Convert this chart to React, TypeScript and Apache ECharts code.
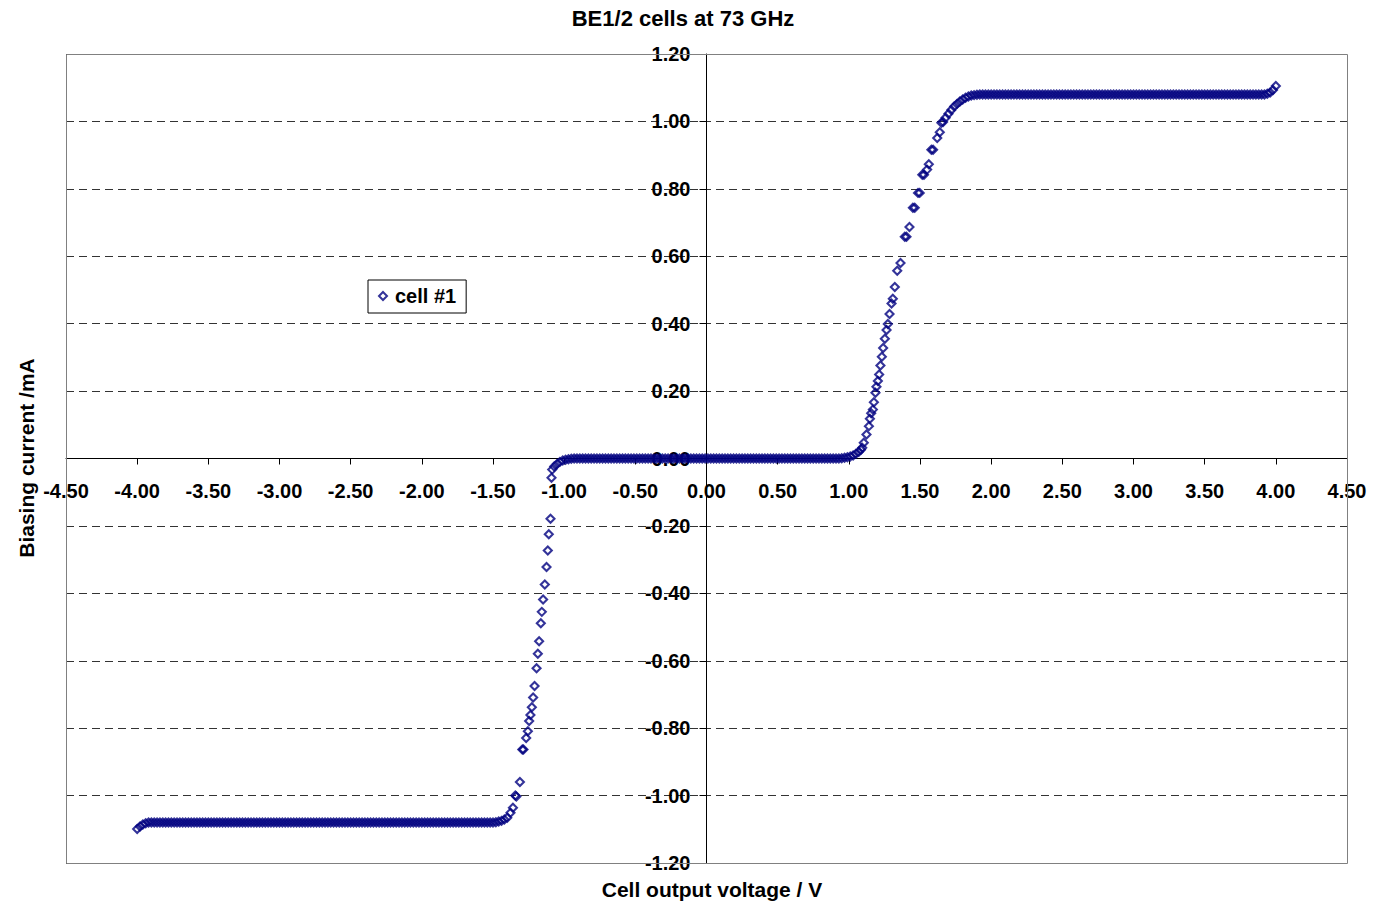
import React, { useEffect, useRef } from "react";
import * as echarts from "echarts";

// Chart texts
const chartTitle = "BE1/2 cells at 73 GHz";
const xAxisTitle = "Cell output voltage / V";
const yAxisTitle = "Biasing current /mA";
const seriesName = "cell #1";

// Axis ranges (V and mA)
const xRange = { min: -4.5, max: 4.5, step: 0.5 };
const yRange = { min: -1.2, max: 1.2, step: 0.2 };

// Measured sweep, [voltage V, current mA]
// Negative saturation (start of the sweep)
const negativeSaturation: [number, number][] = [
  [-4.00, -1.099], [-3.98, -1.092], [-3.96, -1.086], [-3.94, -1.082],
  [-3.92, -1.08], [-3.90, -1.08], [-3.88, -1.08], [-3.86, -1.08], [-3.84, -1.08], [-3.82, -1.08],
  [-3.80, -1.08], [-3.78, -1.08], [-3.76, -1.08], [-3.74, -1.08], [-3.72, -1.08], [-3.70, -1.08],
  [-3.68, -1.08], [-3.66, -1.08], [-3.64, -1.08], [-3.62, -1.08], [-3.60, -1.08], [-3.58, -1.08],
  [-3.56, -1.08], [-3.54, -1.08], [-3.52, -1.08], [-3.50, -1.08], [-3.48, -1.08], [-3.46, -1.08],
  [-3.44, -1.08], [-3.42, -1.08], [-3.40, -1.08], [-3.38, -1.08], [-3.36, -1.08], [-3.34, -1.08],
  [-3.32, -1.08], [-3.30, -1.08], [-3.28, -1.08], [-3.26, -1.08], [-3.24, -1.08], [-3.22, -1.08],
  [-3.20, -1.08], [-3.18, -1.08], [-3.16, -1.08], [-3.14, -1.08], [-3.12, -1.08], [-3.10, -1.08],
  [-3.08, -1.08], [-3.06, -1.08], [-3.04, -1.08], [-3.02, -1.08], [-3.00, -1.08], [-2.98, -1.08],
  [-2.96, -1.08], [-2.94, -1.08], [-2.92, -1.08], [-2.90, -1.08], [-2.88, -1.08], [-2.86, -1.08],
  [-2.84, -1.08], [-2.82, -1.08], [-2.80, -1.08], [-2.78, -1.08], [-2.76, -1.08], [-2.74, -1.08],
  [-2.72, -1.08], [-2.70, -1.08], [-2.68, -1.08], [-2.66, -1.08], [-2.64, -1.08], [-2.62, -1.08],
  [-2.60, -1.08], [-2.58, -1.08], [-2.56, -1.08], [-2.54, -1.08], [-2.52, -1.08], [-2.50, -1.08],
  [-2.48, -1.08], [-2.46, -1.08], [-2.44, -1.08], [-2.42, -1.08], [-2.40, -1.08], [-2.38, -1.08],
  [-2.36, -1.08], [-2.34, -1.08], [-2.32, -1.08], [-2.30, -1.08], [-2.28, -1.08], [-2.26, -1.08],
  [-2.24, -1.08], [-2.22, -1.08], [-2.20, -1.08], [-2.18, -1.08], [-2.16, -1.08], [-2.14, -1.08],
  [-2.12, -1.08], [-2.10, -1.08], [-2.08, -1.08], [-2.06, -1.08], [-2.04, -1.08], [-2.02, -1.08],
  [-2.00, -1.08], [-1.98, -1.08], [-1.96, -1.08], [-1.94, -1.08], [-1.92, -1.08], [-1.90, -1.08],
  [-1.88, -1.08], [-1.86, -1.08], [-1.84, -1.08], [-1.82, -1.08], [-1.80, -1.08], [-1.78, -1.08],
  [-1.76, -1.08], [-1.74, -1.08], [-1.72, -1.08], [-1.70, -1.08], [-1.68, -1.08], [-1.66, -1.08],
  [-1.64, -1.08], [-1.62, -1.08], [-1.60, -1.08], [-1.58, -1.08], [-1.56, -1.08], [-1.54, -1.08],
  [-1.52, -1.08], [-1.50, -1.08], [-1.48, -1.079], [-1.46, -1.077], [-1.44, -1.075], [-1.42, -1.071],
  [-1.40, -1.066],
];

// Negative turn-on edge
const negativeEdge: [number, number][] = [
  [-1.377, -1.051], [-1.360, -1.036], [-1.343, -1.000], [-1.336, -1.003], [-1.311, -0.960],
  [-1.294, -0.863], [-1.286, -0.863], [-1.267, -0.829], [-1.255, -0.809], [-1.246, -0.779],
  [-1.237, -0.761], [-1.227, -0.738], [-1.218, -0.709], [-1.208, -0.675], [-1.194, -0.622],
  [-1.185, -0.579], [-1.176, -0.542], [-1.164, -0.489], [-1.157, -0.455], [-1.148, -0.418],
  [-1.136, -0.374], [-1.124, -0.322], [-1.115, -0.273], [-1.108, -0.225], [-1.096, -0.179],
  [-1.089, -0.057], [-1.084, -0.033], [-1.07, -0.024], [-1.05, -0.016], [-1.03, -0.010],
  [-1.01, -0.006], [-0.99, -0.004], [-0.97, -0.002], [-0.95, -0.001],
];

// Dead zone around 0 V
const deadZone: [number, number][] = [
  [-0.93, 0], [-0.91, 0], [-0.89, 0], [-0.87, 0], [-0.85, 0], [-0.83, 0], [-0.81, 0], [-0.79, 0],
  [-0.77, 0], [-0.75, 0], [-0.73, 0], [-0.71, 0], [-0.69, 0], [-0.67, 0], [-0.65, 0], [-0.63, 0],
  [-0.61, 0], [-0.59, 0], [-0.57, 0], [-0.55, 0], [-0.53, 0], [-0.51, 0], [-0.49, 0], [-0.47, 0],
  [-0.45, 0], [-0.43, 0], [-0.41, 0], [-0.39, 0], [-0.37, 0], [-0.35, 0], [-0.33, 0], [-0.31, 0],
  [-0.29, 0], [-0.27, 0], [-0.25, 0], [-0.23, 0], [-0.21, 0], [-0.19, 0], [-0.17, 0], [-0.15, 0],
  [-0.13, 0], [-0.11, 0], [-0.09, 0], [-0.07, 0], [-0.05, 0], [-0.03, 0], [-0.01, 0], [0.01, 0],
  [0.03, 0], [0.05, 0], [0.07, 0], [0.09, 0], [0.11, 0], [0.13, 0], [0.15, 0], [0.17, 0],
  [0.19, 0], [0.21, 0], [0.23, 0], [0.25, 0], [0.27, 0], [0.29, 0], [0.31, 0], [0.33, 0],
  [0.35, 0], [0.37, 0], [0.39, 0], [0.41, 0], [0.43, 0], [0.45, 0], [0.47, 0], [0.49, 0],
  [0.51, 0], [0.53, 0], [0.55, 0], [0.57, 0], [0.59, 0], [0.61, 0], [0.63, 0], [0.65, 0],
  [0.67, 0], [0.69, 0], [0.71, 0], [0.73, 0], [0.75, 0], [0.77, 0], [0.79, 0], [0.81, 0],
  [0.83, 0], [0.85, 0], [0.87, 0], [0.89, 0], [0.91, 0], [0.93, 0], [0.95, 0.001], [0.97, 0.002],
  [0.99, 0.004], [1.01, 0.006], [1.03, 0.009], [1.05, 0.014], [1.07, 0.020], [1.085, 0.026],
];

// Positive turn-on edge
const positiveEdge: [number, number][] = [
  [1.094, 0.032], [1.105, 0.047], [1.124, 0.071], [1.141, 0.096], [1.148, 0.118],
  [1.157, 0.134], [1.169, 0.145], [1.176, 0.167], [1.187, 0.195], [1.194, 0.213],
  [1.204, 0.230], [1.213, 0.249], [1.222, 0.276], [1.232, 0.302], [1.241, 0.328],
  [1.253, 0.355], [1.265, 0.381], [1.274, 0.399], [1.286, 0.429], [1.300, 0.460],
  [1.309, 0.474], [1.323, 0.509], [1.340, 0.557], [1.363, 0.580], [1.393, 0.658],
  [1.405, 0.658], [1.426, 0.687], [1.450, 0.744], [1.463, 0.744], [1.486, 0.788],
  [1.498, 0.788], [1.516, 0.842], [1.528, 0.842], [1.550, 0.857], [1.562, 0.873],
  [1.580, 0.916], [1.592, 0.916], [1.621, 0.951], [1.639, 0.968], [1.650, 0.996],
  [1.662, 0.998],
];

// Positive saturation (end of the sweep)
const positiveSaturation: [number, number][] = [
  [1.68, 1.011], [1.70, 1.023], [1.72, 1.034], [1.74, 1.044], [1.76, 1.052], [1.78, 1.059],
  [1.80, 1.065], [1.82, 1.070], [1.84, 1.074], [1.86, 1.077], [1.88, 1.078], [1.90, 1.079],
  [1.92, 1.08], [1.94, 1.08], [1.96, 1.08], [1.98, 1.08], [2.00, 1.08], [2.02, 1.08],
  [2.04, 1.08], [2.06, 1.08], [2.08, 1.08], [2.10, 1.08], [2.12, 1.08], [2.14, 1.08],
  [2.16, 1.08], [2.18, 1.08], [2.20, 1.08], [2.22, 1.08], [2.24, 1.08], [2.26, 1.08],
  [2.28, 1.08], [2.30, 1.08], [2.32, 1.08], [2.34, 1.08], [2.36, 1.08], [2.38, 1.08],
  [2.40, 1.08], [2.42, 1.08], [2.44, 1.08], [2.46, 1.08], [2.48, 1.08], [2.50, 1.08],
  [2.52, 1.08], [2.54, 1.08], [2.56, 1.08], [2.58, 1.08], [2.60, 1.08], [2.62, 1.08],
  [2.64, 1.08], [2.66, 1.08], [2.68, 1.08], [2.70, 1.08], [2.72, 1.08], [2.74, 1.08],
  [2.76, 1.08], [2.78, 1.08], [2.80, 1.08], [2.82, 1.08], [2.84, 1.08], [2.86, 1.08],
  [2.88, 1.08], [2.90, 1.08], [2.92, 1.08], [2.94, 1.08], [2.96, 1.08], [2.98, 1.08],
  [3.00, 1.08], [3.02, 1.08], [3.04, 1.08], [3.06, 1.08], [3.08, 1.08], [3.10, 1.08],
  [3.12, 1.08], [3.14, 1.08], [3.16, 1.08], [3.18, 1.08], [3.20, 1.08], [3.22, 1.08],
  [3.24, 1.08], [3.26, 1.08], [3.28, 1.08], [3.30, 1.08], [3.32, 1.08], [3.34, 1.08],
  [3.36, 1.08], [3.38, 1.08], [3.40, 1.08], [3.42, 1.08], [3.44, 1.08], [3.46, 1.08],
  [3.48, 1.08], [3.50, 1.08], [3.52, 1.08], [3.54, 1.08], [3.56, 1.08], [3.58, 1.08],
  [3.60, 1.08], [3.62, 1.08], [3.64, 1.08], [3.66, 1.08], [3.68, 1.08], [3.70, 1.08],
  [3.72, 1.08], [3.74, 1.08], [3.76, 1.08], [3.78, 1.08], [3.80, 1.08], [3.82, 1.08],
  [3.84, 1.08], [3.86, 1.08], [3.88, 1.08], [3.90, 1.08], [3.92, 1.08], [3.94, 1.082],
  [3.96, 1.086], [3.98, 1.093], [4.00, 1.105],
];

const FONT = "'Liberation Sans', Arial, Helvetica, sans-serif";
const NAVY = "#000080";

export default function App() {
  const ref = useRef<HTMLDivElement>(null);

  useEffect(() => {
    if (!ref.current) return;
    const chart = echarts.init(ref.current, undefined, { renderer: "svg" });

    const sweep = [
      ...negativeSaturation,
      ...negativeEdge,
      ...deadZone,
      ...positiveEdge,
      ...positiveSaturation,
    ];

    const gridBox = { left: 66, top: 54, width: 1281, height: 809 };
    // Axes cross at the origin: shift each axis inward from its grid edge
    const xAxisShift = -(gridBox.height * (0 - yRange.min)) / (yRange.max - yRange.min);
    const yAxisShift = -(gridBox.width * (0 - xRange.min)) / (xRange.max - xRange.min);

    const labelStyle = {
      show: true,
      showMinLabel: true,
      showMaxLabel: true,
      color: "#000",
      fontFamily: FONT,
      fontWeight: "bold",
      fontSize: 20,
      formatter: (v: number) => v.toFixed(2),
    };

    chart.setOption({
      animation: false,
      backgroundColor: "#ffffff",
      grid: {
        left: gridBox.left,
        top: gridBox.top,
        width: gridBox.width,
        height: gridBox.height,
        show: false,
      },
      xAxis: {
        type: "value",
        min: xRange.min,
        max: xRange.max,
        interval: xRange.step,
        position: "bottom",
        offset: xAxisShift,
        axisLine: { onZero: false, lineStyle: { color: "#000", width: 1 } },
        axisTick: { show: true, inside: false, length: 6, lineStyle: { color: "#000" } },
        axisLabel: { ...labelStyle, margin: 22 },
        splitLine: { show: false },
      },
      yAxis: {
        type: "value",
        min: yRange.min,
        max: yRange.max,
        interval: yRange.step,
        position: "left",
        offset: yAxisShift,
        axisLine: { onZero: false, lineStyle: { color: "#000", width: 1 } },
        axisTick: { show: true, inside: false, length: 7, lineStyle: { color: "#000" } },
        axisLabel: { ...labelStyle, margin: 16 },
        splitLine: {
          show: true,
          lineStyle: { color: "#333", width: 1, type: [8, 5] },
        },
      },
      legend: {
        data: [seriesName],
        left: 368,
        top: 280,
        padding: [6, 10, 7, 10],
        borderColor: "#000",
        borderWidth: 1,
        backgroundColor: "#fff",
        itemWidth: 8,
        itemHeight: 8,
        itemGap: 0,
        selectedMode: false,
        textStyle: {
          color: "#000",
          fontFamily: FONT,
          fontWeight: "bold",
          fontSize: 20,
          padding: [0, 0, 0, 3],
        },
      },
      graphic: [
        {
          type: "rect",
          z: 100,
          silent: true,
          shape: { x: gridBox.left + 0.5, y: gridBox.top + 0.5, width: gridBox.width, height: gridBox.height },
          style: { fill: "none", stroke: "#808080", lineWidth: 1 },
        },
        {
          type: "text",
          x: 683,
          y: 18,
          style: {
            text: chartTitle,
            fill: "#000",
            font: `bold 22px ${FONT}`,
            align: "center",
            verticalAlign: "middle",
            textAlign: "center",
            textVerticalAlign: "middle",
          },
        },
        {
          type: "text",
          x: 712,
          y: 889,
          style: {
            text: xAxisTitle,
            fill: "#000",
            font: `bold 21px ${FONT}`,
            align: "center",
            verticalAlign: "middle",
            textAlign: "center",
            textVerticalAlign: "middle",
          },
        },
        {
          type: "text",
          x: 26,
          y: 458,
          rotation: Math.PI / 2,
          style: {
            text: yAxisTitle,
            fill: "#000",
            font: `bold 21px ${FONT}`,
            align: "center",
            verticalAlign: "middle",
            textAlign: "center",
            textVerticalAlign: "middle",
          },
        },
      ],
      series: [
        {
          name: seriesName,
          type: "scatter",
          data: sweep,
          symbol: "diamond",
          symbolSize: 8,
          itemStyle: {
            color: "rgba(255,255,255,0)",
            borderColor: NAVY,
            borderWidth: 2.1,
          },
          emphasis: { disabled: true },
        },
      ],
    });

    return () => chart.dispose();
  }, []);

  return (
    <div
      ref={ref}
      style={{ position: "absolute", left: 0, top: 0, width: 1384, height: 906, background: "#fff" }}
    />
  );
}
